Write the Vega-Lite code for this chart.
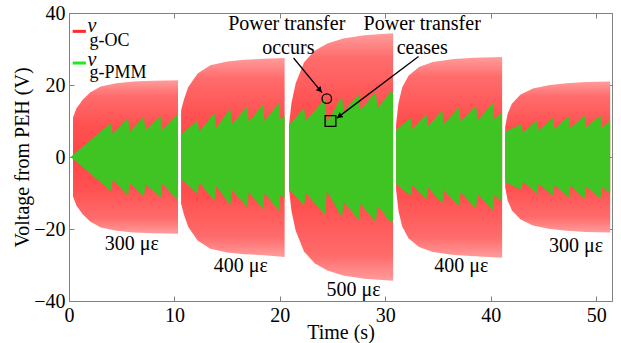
{
  "$schema": "https://vega.github.io/schema/vega-lite/v6.json",
  "width": 543,
  "height": 288,
  "autosize": "none",
  "padding": {"left": 69, "top": 13, "right": 9, "bottom": 42},
  "background": "white",
  "datasets": {
    "red": [
      {"s":1,"t":0.38,"v":11,"v2":-11},{"s":1,"t":0.7,"v":13.5,"v2":-13.5},{"s":1,"t":1.3,"v":15.9,"v2":-15.9},{"s":1,"t":2.0,"v":17.9,"v2":-17.9},{"s":1,"t":3.0,"v":19.6,"v2":-19.6},{"s":1,"t":4.5,"v":20.5,"v2":-20.5},{"s":1,"t":6.1,"v":21.0,"v2":-21.0},{"s":1,"t":8.0,"v":21.2,"v2":-21.2},{"s":1,"t":10.34,"v":21.3,"v2":-21.3},
      {"s":2,"t":10.63,"v":13,"v2":-13},{"s":2,"t":10.9,"v":16,"v2":-16},{"s":2,"t":11.3,"v":19.4,"v2":-19.4},{"s":2,"t":12.2,"v":23.2,"v2":-23.2},{"s":2,"t":13.4,"v":25.5,"v2":-25.5},{"s":2,"t":15.0,"v":26.5,"v2":-26.5},{"s":2,"t":16.6,"v":27.0,"v2":-27.0},{"s":2,"t":18.5,"v":27.3,"v2":-27.3},{"s":2,"t":20.45,"v":27.5,"v2":-27.8},
      {"s":3,"t":20.87,"v":9,"v2":-9},{"s":3,"t":21.1,"v":15,"v2":-15},{"s":3,"t":21.5,"v":20.5,"v2":-20.5},{"s":3,"t":22.3,"v":26.3,"v2":-26.3},{"s":3,"t":23.3,"v":29.5,"v2":-29.5},{"s":3,"t":24.5,"v":31.5,"v2":-31.5},{"s":3,"t":26.0,"v":32.9,"v2":-32.9},{"s":3,"t":28.0,"v":33.8,"v2":-33.8},{"s":3,"t":30.74,"v":34.4,"v2":-34.4},
      {"s":4,"t":31.02,"v":9,"v2":-9},{"s":4,"t":31.25,"v":15,"v2":-15},{"s":4,"t":31.6,"v":19.3,"v2":-19.3},{"s":4,"t":32.2,"v":22.6,"v2":-22.6},{"s":4,"t":33.2,"v":25,"v2":-25},{"s":4,"t":34.5,"v":26.4,"v2":-26.4},{"s":4,"t":36.5,"v":27.2,"v2":-27.2},{"s":4,"t":38.5,"v":27.6,"v2":-27.6},{"s":4,"t":41.08,"v":27.8,"v2":-28.0},
      {"s":5,"t":41.37,"v":8.4,"v2":-8.4},{"s":5,"t":41.6,"v":12,"v2":-12},{"s":5,"t":42.0,"v":14.8,"v2":-14.8},{"s":5,"t":42.8,"v":17.3,"v2":-17.3},{"s":5,"t":44.0,"v":19.0,"v2":-19.0},{"s":5,"t":45.6,"v":20.0,"v2":-20.0},{"s":5,"t":47.2,"v":20.5,"v2":-20.5},{"s":5,"t":49.0,"v":20.8,"v2":-20.8},{"s":5,"t":51.33,"v":21.0,"v2":-21.0}
    ],
    "green": [
      {"s":1,"t":0.15,"v":0,"v2":0},{"s":1,"t":4.0,"v":9.5,"v2":-9.5},{"s":1,"t":4.15,"v":6.3,"v2":-6.3},{"s":1,"t":5.6,"v":10.8,"v2":-10.8},{"s":1,"t":5.75,"v":7.0,"v2":-7.0},{"s":1,"t":7.1,"v":11.2,"v2":-11.2},{"s":1,"t":7.25,"v":7.5,"v2":-7.5},{"s":1,"t":8.7,"v":11.3,"v2":-11.3},{"s":1,"t":8.85,"v":7.4,"v2":-7.4},{"s":1,"t":10.2,"v":11.7,"v2":-11.7},{"s":1,"t":10.34,"v":11.2,"v2":-11.2},
      {"s":2,"t":10.63,"v":6.2,"v2":-6.2},{"s":2,"t":12.2,"v":10.3,"v2":-10.3},{"s":2,"t":12.35,"v":7.0,"v2":-7.0},{"s":2,"t":13.8,"v":12.2,"v2":-12.2},{"s":2,"t":13.95,"v":8.0,"v2":-8.0},{"s":2,"t":15.3,"v":13.5,"v2":-13.5},{"s":2,"t":15.45,"v":9.0,"v2":-9.0},{"s":2,"t":16.9,"v":14.0,"v2":-14.0},{"s":2,"t":17.05,"v":9.8,"v2":-9.8},{"s":2,"t":18.4,"v":14.5,"v2":-14.5},{"s":2,"t":18.55,"v":10.0,"v2":-10.0},{"s":2,"t":19.9,"v":15.0,"v2":-15.0},{"s":2,"t":20.05,"v":10.5,"v2":-10.5},{"s":2,"t":20.45,"v":11.5,"v2":-11.5},
      {"s":3,"t":20.87,"v":8.9,"v2":-8.9},{"s":3,"t":22.3,"v":13.6,"v2":-13.6},{"s":3,"t":22.45,"v":10.0,"v2":-10.0},{"s":3,"t":24.3,"v":16.2,"v2":-16.2},{"s":3,"t":24.45,"v":9.5,"v2":-9.5},{"s":3,"t":25.9,"v":16.8,"v2":-16.8},{"s":3,"t":26.05,"v":12.5,"v2":-12.5},{"s":3,"t":27.5,"v":17.5,"v2":-17.5},{"s":3,"t":27.65,"v":13.0,"v2":-13.0},{"s":3,"t":29.1,"v":18.2,"v2":-18.2},{"s":3,"t":29.25,"v":13.5,"v2":-13.5},{"s":3,"t":30.6,"v":18.5,"v2":-18.5},{"s":3,"t":30.74,"v":17.5,"v2":-17.5},
      {"s":4,"t":31.02,"v":7.5,"v2":-7.5},{"s":4,"t":32.4,"v":10.8,"v2":-10.8},{"s":4,"t":32.55,"v":7.8,"v2":-7.8},{"s":4,"t":33.9,"v":11.8,"v2":-11.8},{"s":4,"t":34.05,"v":8.5,"v2":-8.5},{"s":4,"t":35.4,"v":13.0,"v2":-13.0},{"s":4,"t":35.55,"v":9.2,"v2":-9.2},{"s":4,"t":37.0,"v":13.8,"v2":-13.8},{"s":4,"t":37.15,"v":9.8,"v2":-9.8},{"s":4,"t":38.6,"v":14.4,"v2":-14.4},{"s":4,"t":38.75,"v":10.2,"v2":-10.2},{"s":4,"t":40.2,"v":14.9,"v2":-14.9},{"s":4,"t":40.35,"v":10.5,"v2":-10.5},{"s":4,"t":41.08,"v":12.5,"v2":-12.5},
      {"s":5,"t":41.37,"v":7.0,"v2":-7.0},{"s":5,"t":42.9,"v":9.2,"v2":-9.2},{"s":5,"t":43.05,"v":6.8,"v2":-6.8},{"s":5,"t":44.4,"v":10.2,"v2":-10.2},{"s":5,"t":44.55,"v":7.4,"v2":-7.4},{"s":5,"t":45.9,"v":10.8,"v2":-10.8},{"s":5,"t":46.05,"v":7.8,"v2":-7.8},{"s":5,"t":47.4,"v":11.3,"v2":-11.3},{"s":5,"t":47.55,"v":8.0,"v2":-8.0},{"s":5,"t":48.9,"v":11.6,"v2":-11.6},{"s":5,"t":49.05,"v":8.2,"v2":-8.2},{"s":5,"t":50.4,"v":11.6,"v2":-11.6},{"s":5,"t":50.55,"v":8.2,"v2":-8.2},{"s":5,"t":51.33,"v":10.3,"v2":-10.3}
    ],
    "ann": [
      {"t":20.65,"v":35.4,"txt":"Power transfer"},
      {"t":20.8,"v":28.7,"txt":"occurs"},
      {"t":33.5,"v":35.4,"txt":"Power transfer"},
      {"t":33.5,"v":28.7,"txt":"ceases"},
      {"t":5.95,"v":-25.9,"txt":"300 με"},
      {"t":16.3,"v":-31.9,"txt":"400 με"},
      {"t":27.0,"v":-38.7,"txt":"500 με"},
      {"t":37.2,"v":-31.9,"txt":"400 με"},
      {"t":48.1,"v":-26.4,"txt":"300 με"}
    ],
    "legv": [
      {"t":1.75,"v":34.6,"txt":"v"},
      {"t":1.75,"v":25.3,"txt":"v"}
    ],
    "legs": [
      {"t":1.95,"v":30.8,"txt":"g-OC"},
      {"t":1.95,"v":21.9,"txt":"g-PMM"}
    ],
    "legl": [
      {"t":0.35,"t2":1.6,"v":34.9,"k":"oc"},
      {"t":0.35,"t2":1.6,"v":26.1,"k":"pmm"}
    ],
    "arrows": [
      {"t":21.3,"v":27.5,"t2":24.0,"v2":17.9},
      {"t":33.15,"v":27.9,"t2":25.4,"v2":10.8}
    ],
    "heads": [
      {"t":23.8,"v":18.55,"a":140},
      {"t":25.63,"v":11.3,"a":233}
    ],
    "circ": [{"t":24.45,"v":16.2}],
    "sq": [{"t":24.8,"v":10.0}]
  },
  "layer": [
    {
      "encoding": {
        "x": {"field": "t", "type": "quantitative", "scale": {"domain": [0, 51.5], "nice": false, "zero": false},
              "axis": {"title": "Time (s)", "values": [0, 10, 20, 30, 40, 50], "labelFlush": false, "titlePadding": -3}},
        "y": {"field": "v", "type": "quantitative", "scale": {"domain": [-40, 40], "nice": false},
              "axis": {"title": "Voltage from PEH (V)", "values": [-40, -20, 0, 20, 40], "titlePadding": 1}}
      },
      "layer": [
        {"data": {"name": "red"},
         "mark": {"type": "area", "line": false,
                  "color": {"gradient": "linear", "x1": 0, "y1": 0, "x2": 0, "y2": 1,
                            "stops": [{"offset": 0, "color": "#ff9c9c"}, {"offset": 0.1, "color": "#ff6c6c"}, {"offset": 0.3, "color": "#ff5050"}, {"offset": 0.5, "color": "#ff4646"}, {"offset": 0.7, "color": "#ff5050"}, {"offset": 0.9, "color": "#ff6c6c"}, {"offset": 1, "color": "#ff9c9c"}]}},
         "encoding": {"y2": {"field": "v2"}, "detail": {"field": "s"}}},
        {"data": {"name": "green"},
         "mark": {"type": "area", "line": false, "color": "#40c424"},
         "encoding": {"y2": {"field": "v2"}, "detail": {"field": "s"}}},
        {"data": {"name": "legl"},
         "mark": {"type": "rule", "strokeWidth": 3},
         "encoding": {"x2": {"field": "t2"}, "color": {"field": "k", "type": "nominal", "scale": {"domain": ["oc", "pmm"], "range": ["#ff2a2a", "#22e822"]}, "legend": null}}},
        {"data": {"name": "ann"},
         "mark": {"type": "text", "font": "Liberation Serif, Times New Roman, serif", "fontSize": 20, "align": "center", "baseline": "alphabetic", "color": "#000"},
         "encoding": {"text": {"field": "txt"}}},
        {"data": {"name": "legv"},
         "mark": {"type": "text", "font": "Liberation Serif, Times New Roman, serif", "fontSize": 20, "fontStyle": "italic", "align": "left", "baseline": "alphabetic", "color": "#000"},
         "encoding": {"text": {"field": "txt"}}},
        {"data": {"name": "legs"},
         "mark": {"type": "text", "font": "Liberation Serif, Times New Roman, serif", "fontSize": 18, "align": "left", "baseline": "alphabetic", "color": "#000"},
         "encoding": {"text": {"field": "txt"}}},
        {"data": {"name": "arrows"},
         "mark": {"type": "rule", "strokeWidth": 1.3, "color": "#000"},
         "encoding": {"x2": {"field": "t2"}, "y2": {"field": "v2"}}},
        {"data": {"name": "heads"},
         "mark": {"type": "point", "shape": "triangle-up", "filled": true, "color": "#000", "size": 40, "opacity": 1},
         "encoding": {"angle": {"field": "a", "type": "quantitative", "scale": null}}},
        {"data": {"name": "circ"},
         "mark": {"type": "point", "shape": "circle", "filled": false, "color": "#000", "size": 90, "strokeWidth": 1.3, "opacity": 1}},
        {"data": {"name": "sq"},
         "mark": {"type": "point", "shape": "square", "filled": false, "color": "#000", "size": 115, "strokeWidth": 1.3, "opacity": 1}}
      ]
    },
    {
      "data": {"name": "circ"},
      "mark": {"type": "point", "opacity": 0},
      "encoding": {
        "x": {"field": "t", "type": "quantitative", "scale": {"domain": [0, 51.5], "nice": false, "zero": false},
              "axis": {"orient": "top", "labels": false, "title": null, "values": [0, 10, 20, 30, 40, 50]}},
        "y": {"field": "v", "type": "quantitative", "scale": {"domain": [-40, 40], "nice": false},
              "axis": {"orient": "right", "labels": false, "title": null, "values": [-40, -20, 0, 20, 40]}}
      }
    }
  ],
  "resolve": {"axis": {"x": "independent", "y": "independent"}},
  "config": {
    "font": "Liberation Serif, Times New Roman, serif",
    "text": {"font": "Liberation Serif, Times New Roman, serif"},
    "view": {"stroke": "#808080", "strokeWidth": 1},
    "axis": {"labelFont": "Liberation Serif, Times New Roman, serif", "titleFont": "Liberation Serif, Times New Roman, serif", "labelFontSize": 20, "titleFontSize": 20,
             "titleFontWeight": "normal", "labelColor": "#000", "titleColor": "#000", "grid": false, "domain": false,
             "tickColor": "#808080", "tickSize": -5, "labelPadding": 9}
  }
}
